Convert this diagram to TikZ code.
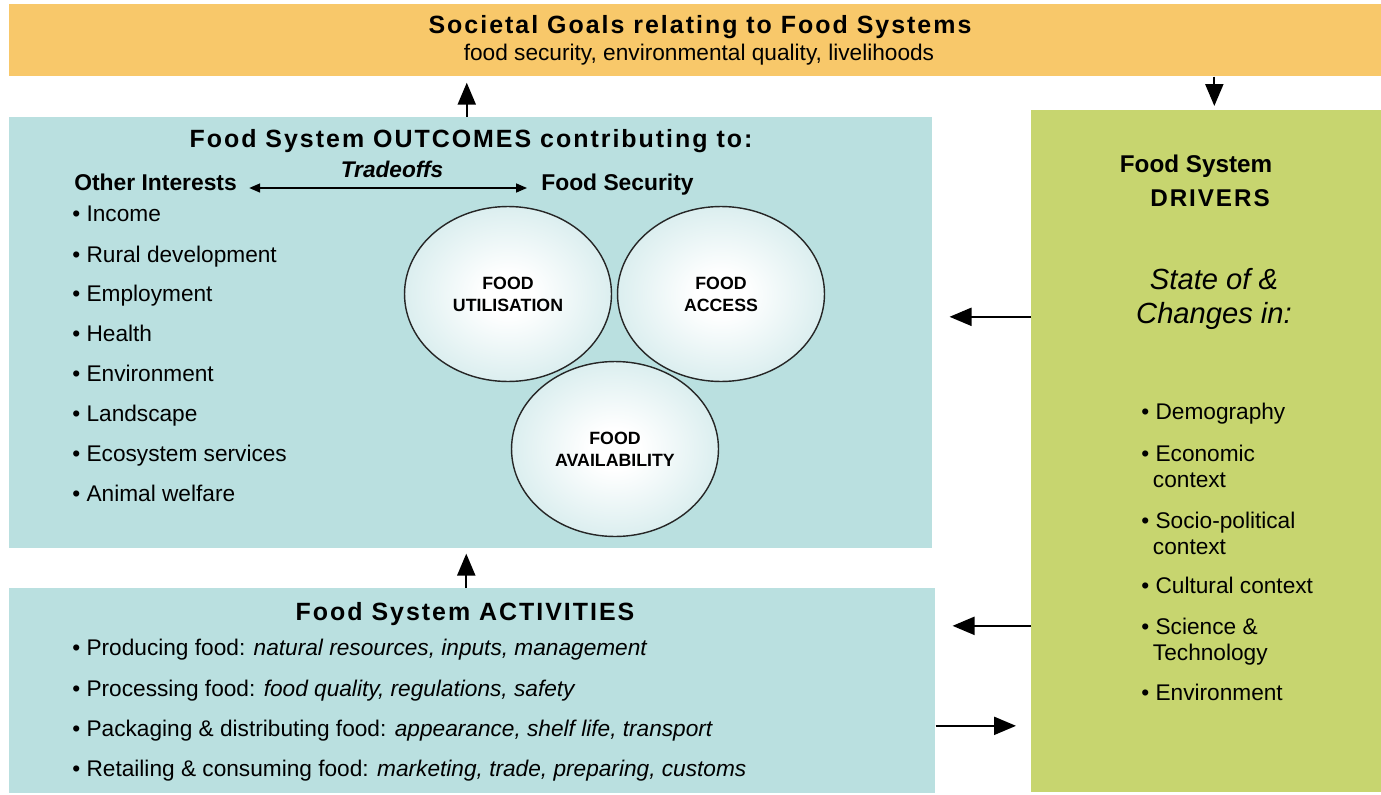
\documentclass[tikz,border=0pt]{standalone}
\usepackage{fontspec}
\setmainfont{Liberation Sans}
\newfontfamily\spacedfont[LetterSpace=8]{Liberation Sans}
\usetikzlibrary{positioning,shapes.geometric,arrows.meta,calc}

\definecolor{goalorange}{RGB}{248,200,106}
\definecolor{outteal}{RGB}{186,224,224}
\definecolor{ovalteal}{RGB}{176,218,220}
\definecolor{drivgreen}{RGB}{199,213,111}
\pgfdeclareradialshading{ovalglow}{\pgfpoint{0bp}{0bp}}{color(0bp)=(white); color(6bp)=(white); color(48bp)=(ovalteal); color(50bp)=(ovalteal)}

\begin{document}
\begin{tikzpicture}[x=0.02cm, y=-0.02cm,
    panel/.style={rectangle, inner sep=0pt, anchor=north west},
    arr/.style={-{Triangle[length=0.44cm, width=0.36cm]}, line width=1.2pt},
    oval/.style={ellipse, draw=black!85, line width=0.8pt, minimum width=4.14cm, minimum height=3.5cm, inner sep=0pt, shading=ovalglow, align=center, font=\fontsize{10.1}{12.4}\selectfont\bfseries},
    heading/.style={anchor=base, inner sep=0pt, font=\fontsize{14.2}{16}\selectfont\spacedfont\bfseries},
    item/.style={anchor=base west, inner sep=0pt, font=\fontsize{12.9}{14.6}\selectfont},
    actitem/.style={anchor=base west, inner sep=0pt, font=\fontsize{12.9}{14.6}\selectfont}]
    \useasboundingbox (0,0) rectangle (1381,794);

    % the four panels
    \node[panel, fill=goalorange, minimum width=27.44cm, minimum height=1.44cm] (goals) at (9,4) {};
    \node[panel, fill=outteal, minimum width=18.46cm, minimum height=8.62cm] (outcomes) at (9,117) {};
    \node[panel, fill=outteal, minimum width=18.52cm, minimum height=4.1cm] (activities) at (9,588) {};
    \node[panel, fill=drivgreen, minimum width=7cm, minimum height=13.64cm] (drivers) at (1031,110) {};

    % societal goals
    \node[heading] (goalstitle) at (700,34) {Societal Goals relating to Food Systems};
    \node[anchor=base, inner sep=0pt, font=\fontsize{12.9}{14.6}\selectfont] (goalssub) at (699,61) {food security, environmental quality, livelihoods};

    % outcomes
    \node[heading] (outtitle) at (471,147) {Food System OUTCOMES contributing to:};
    \node[item, font=\fontsize{13}{14.6}\selectfont\bfseries] (oi) at (74,190) {Other Interests};
    \node[item, font=\fontsize{13}{14.6}\selectfont\bfseries] (fs) at (541,190) {Food Security};
    \node[anchor=base, inner sep=0pt, font=\fontsize{12.9}{14.6}\selectfont\bfseries\itshape] (tradeoffs) at (392,177) {Tradeoffs};
    \node[item] (income) at (72,221) {\textbullet\ Income};
    \node[item] (rural) at (72,262) {\textbullet\ Rural development};
    \node[item] (employ) at (72,301) {\textbullet\ Employment};
    \node[item] (health) at (72,341) {\textbullet\ Health};
    \node[item] (environ) at (72,381) {\textbullet\ Environment};
    \node[item] (landsc) at (72,421) {\textbullet\ Landscape};
    \node[item] (ecosys) at (72,461) {\textbullet\ Ecosystem services};
    \node[item] (animal) at (72,501) {\textbullet\ Animal welfare};

    \node[oval] (util) at (508,294) {FOOD\\UTILISATION};
    \node[oval] (access) at (721,294) {FOOD\\ACCESS};
    \node[oval] (avail) at (615,449) {FOOD\\AVAILABILITY};

    % activities
    \node[heading] (acttitle) at (465,620) {Food System ACTIVITIES};
    \node[actitem] (produce) at (72,655) {\textbullet\ Producing food: \textit{natural resources, inputs, management}};
    \node[actitem] (process) at (72,696) {\textbullet\ Processing food: \textit{food quality, regulations, safety}};
    \node[actitem] (package) at (72,736) {\textbullet\ Packaging \& distributing food: \textit{appearance, shelf life, transport}};
    \node[actitem] (retail) at (72,776) {\textbullet\ Retailing \& consuming food: \textit{marketing, trade, preparing, customs}};

    % drivers
    \node[anchor=base, inner sep=0pt, font=\fontsize{13.8}{16}\selectfont\bfseries] (drvtitle) at (1196,172) {Food System};
    \node[anchor=base, inner sep=0pt, font=\fontsize{13.8}{16}\selectfont\spacedfont\bfseries] (drvname) at (1210,206) {DRIVERS};
    \node[anchor=north, inner sep=0pt, align=center, font=\fontsize{16.6}{19.3}\selectfont\itshape] (statechg) at (1214,268) {State of \&\\Changes in:};
    \node[item] (demog) at (1141,419) {\textbullet\ Demography};
    \node[item, align=left] (econ) at (1141,487) {\textbullet\ Economic\\[0pt]\hspace*{-1.5pt}\hphantom{\textbullet\ }context};
    \node[item, align=left] (socpol) at (1141,554) {\textbullet\ Socio-political\\[0pt]\hspace*{-1.5pt}\hphantom{\textbullet\ }context};
    \node[item] (cultur) at (1141,593) {\textbullet\ Cultural context};
    \node[item, align=left] (scitech) at (1141,660) {\textbullet\ Science \&\\[0pt]\hspace*{-1.5pt}\hphantom{\textbullet\ }Technology};
    \node[item] (drvenv) at (1141,700) {\textbullet\ Environment};

    % connectors
    \draw[arr, shorten >=0.12cm] ($(outcomes.north)+(-4,0)$) -- ($(outcomes.north |- goals.south)+(-4,0)$);
    \draw[arr, shorten >=0.08cm] ($(drivers.north |- goals.south)+(8,0)$) -- ($(drivers.north)+(8,0)$);
    \draw[arr, shorten >=0.1cm] ($(activities.north)+(-6,0)$) -- ($(activities.north |- outcomes.south)+(-6,0)$);
    \draw[arr, shorten >=0.34cm] ($(drivers.west |- outcomes.east)+(0,-16)$) -- ($(outcomes.east)+(0,-16)$);
    \draw[arr, shorten >=0.34cm] ($(drivers.west |- activities.east)+(0,-65)$) -- ($(activities.east)+(0,-65)$);
    \draw[arr, shorten >=0.3cm] ($(activities.east)+(0,35)$) -- ($(drivers.west |- activities.east)+(0,35)$);
    \draw[{Triangle[length=0.22cm, width=0.18cm]}-{Triangle[length=0.22cm, width=0.18cm]}, line width=0.9pt, shorten <=0.24cm, shorten >=0.28cm] ($(oi.base east)+(0,-2)$) -- ($(fs.base west)+(0,-2)$);
\end{tikzpicture}
\end{document}
